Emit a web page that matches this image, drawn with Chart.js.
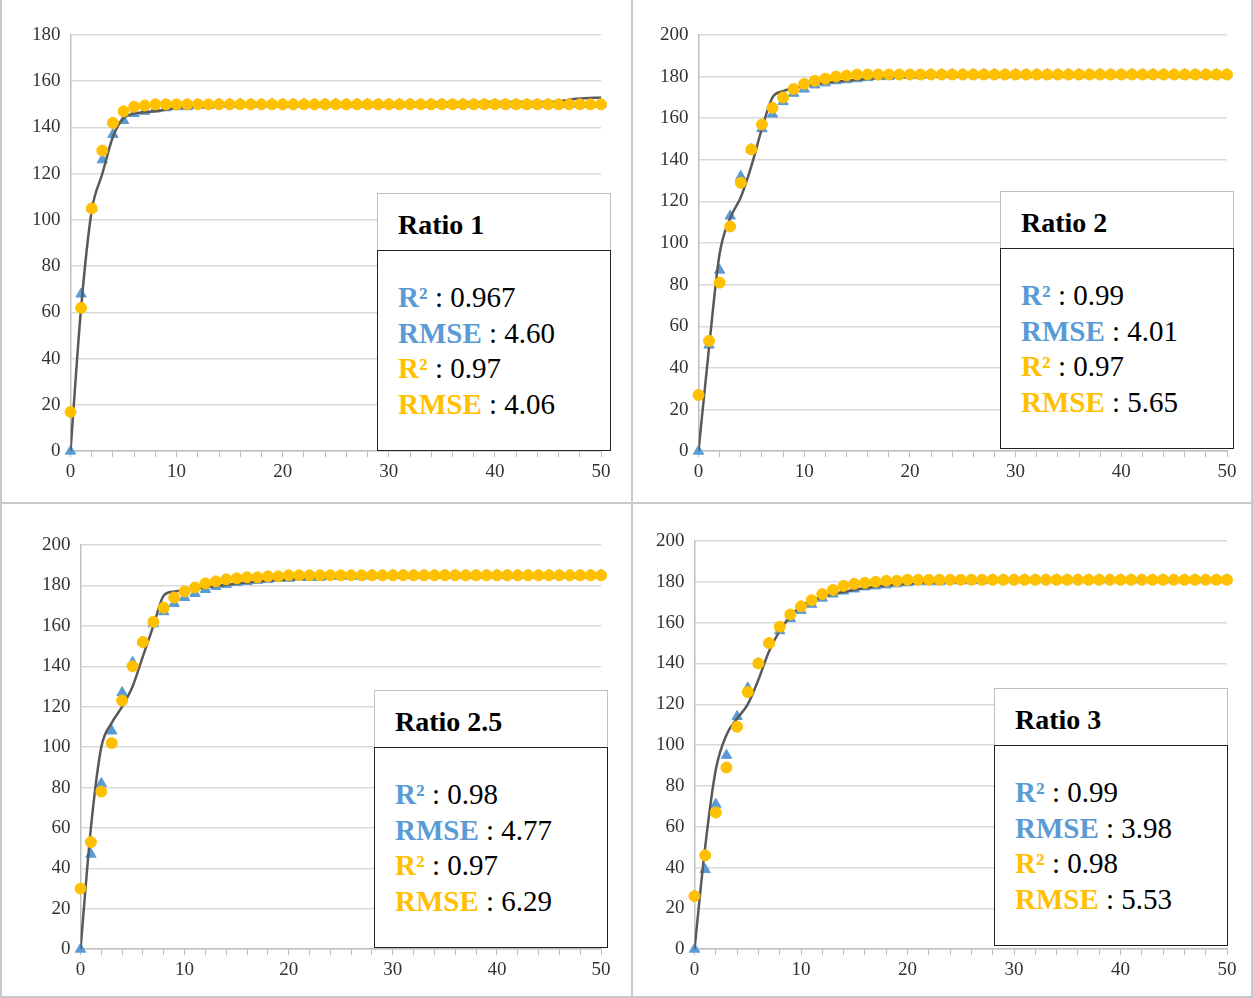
<!DOCTYPE html>
<html>
<head>
<meta charset="utf-8">
<script src="https://cdn.jsdelivr.net/npm/chart.js@4.4.1/dist/chart.umd.min.js"></script>
<style>
  body { margin: 0; background: #fff; font-family: "Liberation Serif", serif; }
  #wrap { position: relative; width: 1253px; height: 998px; }
  .panel { position: absolute; }
  .sep { position: absolute; background: #c8c8c8; }
  .title { position: absolute; border: 1px solid #bfbfbf; border-bottom: none; background: #fff;
           font-weight: bold; font-size: 28px; box-sizing: border-box; padding-left: 20px; line-height: 62px; }
  .body { position: absolute; border: 1px solid #222; background: #fff; box-sizing: border-box; }
  .line { position: absolute; left: 20px; font-size: 29px; color: #000; }
  .b { color: #5b9bd5; font-weight: bold; }
  .y { color: #ffc000; font-weight: bold; }
</style>
</head>
<body>
<div id="wrap">
  <div class="sep" style="left:631px;top:0;width:2px;height:998px"></div>
  <div class="sep" style="left:0;top:502px;width:1253px;height:2px"></div>
  <div class="sep" style="left:0;top:0;width:2px;height:998px"></div>
  <div class="sep" style="left:1251px;top:0;width:2px;height:998px"></div>
  <div class="sep" style="left:0;top:996px;width:1253px;height:2px"></div>
</div>
<script>
const xValues = Array.from({ length: 51 }, (_, i) => i);

const ratioNames = ["Ratio 1", "Ratio 2", "Ratio 2.5", "Ratio 3"];
const yMaxes = [180, 200, 200, 200];
const statLabels = [
  ["0.967", "4.60", "0.97", "4.06"],
  ["0.99", "4.01", "0.97", "5.65"],
  ["0.98", "4.77", "0.97", "6.29"],
  ["0.99", "3.98", "0.98", "5.53"]
];

// blue triangles (model A)
const blue1 = [0, 68, 105, 126, 137, 143, 146, 147, 148, 148.5, 149, 149, 149.5, 149.5, 150, 150, 150, 150, 150, 150, 150, 150, 150, 150, 150, 150, 150, 150, 150, 150, 150, 150, 150, 150, 150, 150, 150, 150, 150, 150, 150, 150, 150, 150, 150, 150, 150, 150, 150, 150, 150];
const blue2 = [0, 51, 87, 113, 132, 145, 155, 162, 168, 172, 174, 176, 177, 178, 178.5, 179, 179.5, 180, 180, 180.5, 180.5, 180.5, 181, 181, 181, 181, 181, 181, 181, 181, 181, 181, 181, 181, 181, 181, 181, 181, 181, 181, 181, 181, 181, 181, 181, 181, 181, 181, 181, 181, 181];
const blue3 = [0, 47, 82, 108, 127, 142, 152, 161, 167, 171, 174, 176, 178, 179.5, 180.5, 181.5, 182, 182.5, 183, 183.5, 183.5, 184, 184, 184, 184.5, 184.5, 184.5, 184.5, 185, 185, 185, 185, 185, 185, 185, 185, 185, 185, 185, 185, 185, 185, 185, 185, 185, 185, 185, 185, 185, 185, 185];
const blue4 = [0, 39, 71, 95, 114, 128, 140, 150, 156, 162, 166, 169, 172, 174, 175.5, 176.5, 177.5, 178, 178.5, 179, 179.5, 180, 180, 180, 180.5, 180.5, 180.5, 180.5, 181, 181, 181, 181, 181, 181, 181, 181, 181, 181, 181, 181, 181, 181, 181, 181, 181, 181, 181, 181, 181, 181, 181];

// yellow circles (model B)
const yellow1 = [17, 62, 105, 130, 142, 147, 149, 149.5, 150, 150, 150, 150, 150, 150, 150, 150, 150, 150, 150, 150, 150, 150, 150, 150, 150, 150, 150, 150, 150, 150, 150, 150, 150, 150, 150, 150, 150, 150, 150, 150, 150, 150, 150, 150, 150, 150, 150, 150, 150, 150, 150];
const yellow2 = [27, 53, 81, 108, 129, 145, 157, 165, 170, 174, 176.5, 178, 179, 180, 180.5, 181, 181, 181, 181, 181, 181, 181, 181, 181, 181, 181, 181, 181, 181, 181, 181, 181, 181, 181, 181, 181, 181, 181, 181, 181, 181, 181, 181, 181, 181, 181, 181, 181, 181, 181, 181];
const yellow3 = [30, 53, 78, 102, 123, 140, 152, 162, 169, 174, 177, 179, 181, 182, 183, 183.5, 184, 184, 184.5, 184.5, 185, 185, 185, 185, 185, 185, 185, 185, 185, 185, 185, 185, 185, 185, 185, 185, 185, 185, 185, 185, 185, 185, 185, 185, 185, 185, 185, 185, 185, 185, 185];
const yellow4 = [26, 46, 67, 89, 109, 126, 140, 150, 158, 164, 168, 171, 174, 176, 178, 179, 179.5, 180, 180.5, 180.5, 181, 181, 181, 181, 181, 181, 181, 181, 181, 181, 181, 181, 181, 181, 181, 181, 181, 181, 181, 181, 181, 181, 181, 181, 181, 181, 181, 181, 181, 181, 181];

// experimental curve (dark line)
const expX1 = [0, 1, 2, 3, 4, 5, 6, 8, 10, 15, 20, 30, 40, 45, 48, 50];
const expY1 = [0, 62, 104, 120, 136, 144, 146, 147, 148.5, 149.5, 150, 150.5, 151, 151, 152.5, 153];
const expX2 = [0, 1, 2, 3, 4, 5, 6, 7, 8, 10, 12, 15, 20, 30, 50];
const expY2 = [0, 50, 95, 112, 122, 137, 155, 170, 173, 175.5, 177, 178.5, 180, 180, 180];
const expX3 = [0, 1, 2, 3, 4, 5, 6, 7, 8, 9, 12, 15, 20, 30, 50];
const expY3 = [0, 60, 100, 112, 120, 130, 145, 160, 175, 177, 179, 181, 183, 184.5, 185];
const expX4 = [0, 1, 2, 3, 4, 5, 6, 7, 8, 9, 10, 15, 20, 30, 50];
const expY4 = [0, 50, 88, 105, 113, 120, 132, 146, 156, 163, 168, 176, 179, 180.5, 181];

const blues = [blue1, blue2, blue3, blue4];
const yellows = [yellow1, yellow2, yellow3, yellow4];
const expXs = [expX1, expX2, expX3, expX4];
const expYs = [expY1, expY2, expY3, expY4];

const panels = [
  { left: 2, top: 2, w: 629, h: 500, box: { x: 377, y: 193 } },
  { left: 633, top: 2, w: 618, h: 500, box: { x: 1000, y: 191 } },
  { left: 2, top: 504, w: 629, h: 492, box: { x: 374, y: 690 } },
  { left: 633, top: 504, w: 618, h: 492, box: { x: 994, y: 688 } }
];
const paddings = [
  { top: 33, right: 30, bottom: 16, left: 20 },
  { top: 33, right: 24, bottom: 16, left: 17 },
  { top: 41, right: 30, bottom: 12, left: 30 },
  { top: 37, right: 24, bottom: 12, left: 13 }
];

const wrap = document.getElementById("wrap");

panels.forEach((p, i) => {
  const div = document.createElement("div");
  div.className = "panel";
  Object.assign(div.style, { left: p.left + "px", top: p.top + "px", width: p.w + "px", height: p.h + "px" });
  const canvas = document.createElement("canvas");
  div.appendChild(canvas);
  wrap.appendChild(div);

  new Chart(canvas, {
    type: "line",
    data: {
      datasets: [
        {
          label: "Model A",
          data: xValues.map((x, k) => ({ x, y: blues[i][k] })),
          showLine: false,
          clip: false,
          pointStyle: "triangle",
          pointRadius: 6,
          backgroundColor: "#5b9bd5",
          borderColor: "#5b9bd5",
          order: 3
        },
        {
          label: "Experimental",
          data: expXs[i].map((x, k) => ({ x, y: expYs[i][k] })),
          borderColor: "#595959",
          borderWidth: 2.5,
          pointRadius: 0,
          cubicInterpolationMode: "monotone",
          order: 2
        },
        {
          label: "Model B",
          data: xValues.map((x, k) => ({ x, y: yellows[i][k] })),
          showLine: false,
          clip: false,
          pointStyle: "circle",
          pointRadius: 5.5,
          backgroundColor: "#ffc000",
          borderColor: "#ffc000",
          order: 1
        }
      ]
    },
    options: {
      responsive: true,
      maintainAspectRatio: false,
      animation: false,
      layout: { padding: paddings[i] },
      plugins: { legend: { display: false }, tooltip: { enabled: false } },
      scales: {
        x: {
          type: "linear",
          min: 0,
          max: 50,
          ticks: {
            stepSize: 2,
            autoSkip: false,
            maxRotation: 0,
            color: "#333",
            font: { family: "Liberation Serif", size: 19 },
            callback: (v) => (v % 10 === 0 ? v : "")
          },
          grid: { drawOnChartArea: false, color: "#bfbfbf", tickLength: 6 },
          border: { color: "#bfbfbf", width: 1.5 }
        },
        y: {
          min: 0,
          max: yMaxes[i],
          ticks: {
            stepSize: 20,
            color: "#333",
            padding: 10,
            font: { family: "Liberation Serif", size: 19 }
          },
          grid: { color: "#d9d9d9", lineWidth: 1.5, drawTicks: false },
          border: { color: "#bfbfbf", width: 1.5 }
        }
      }
    }
  });

  const t = document.createElement("div");
  t.className = "title";
  Object.assign(t.style, { left: p.box.x + "px", top: p.box.y + "px", width: "234px", height: "58px" });
  t.textContent = ratioNames[i];
  wrap.appendChild(t);

  const b = document.createElement("div");
  b.className = "body";
  Object.assign(b.style, { left: p.box.x + "px", top: (p.box.y + 57) + "px", width: "234px", height: "201px" });
  const s = statLabels[i];
  const rows = [
    ["b", "R²", s[0]],
    ["b", "RMSE", s[1]],
    ["y", "R²", s[2]],
    ["y", "RMSE", s[3]]
  ];
  rows.forEach((r, k) => {
    const l = document.createElement("div");
    l.className = "line";
    l.style.top = (30 + k * 35.5) + "px";
    const sp = document.createElement("span");
    sp.className = r[0];
    sp.textContent = r[1];
    l.appendChild(sp);
    l.appendChild(document.createTextNode(" : " + r[2]));
    b.appendChild(l);
  });
  wrap.appendChild(b);
});
</script>
</body>
</html>
